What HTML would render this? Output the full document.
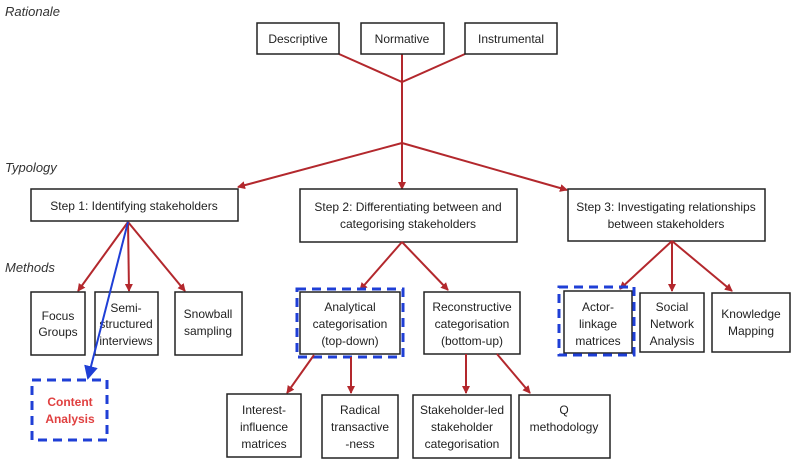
<!DOCTYPE html>
<html><head><meta charset="utf-8"><style>
html,body{margin:0;padding:0;background:#fff;}
svg{display:block;}
text{font-family:"Liberation Sans",Arial,sans-serif;font-size:12px;fill:#222;text-anchor:middle;}
.lab{font-style:italic;text-anchor:start;fill:#333;font-size:13px;}
.b{fill:#fff;stroke:#222;stroke-width:1.5;}
.r{stroke:#b3282d;stroke-width:2;fill:none;}
.d{fill:none;stroke:#1f3fd6;stroke-width:3;stroke-dasharray:9,6;}
</style></head><body>
<svg width="799" height="467" viewBox="0 0 799 467">
<defs>
<marker id="a" markerWidth="8" markerHeight="8" refX="7" refY="4" orient="auto" markerUnits="userSpaceOnUse"><path d="M0,0 L8,4 L0,8 z" fill="#b3282d"/></marker>
<marker id="bl" markerWidth="14" markerHeight="14" refX="12" refY="7" orient="auto" markerUnits="userSpaceOnUse"><path d="M0,0 L14,7 L0,14 z" fill="#1f3fd6"/></marker>
</defs>
<text class="lab" x="5" y="16">Rationale</text>
<text class="lab" x="5" y="172">Typology</text>
<text class="lab" x="5" y="272">Methods</text>

<path class="r" d="M339,54 L402,82 L465,54 M402,54 L402,143"/>
<path class="r" d="M402,143 L238,187" marker-end="url(#a)"/>
<path class="r" d="M402,143 L402,189" marker-end="url(#a)"/>
<path class="r" d="M402,143 L567,190" marker-end="url(#a)"/>

<rect class="b" x="257" y="23" width="82" height="31"/><text x="298" y="43">Descriptive</text>
<rect class="b" x="361" y="23" width="83" height="31"/><text x="402" y="43">Normative</text>
<rect class="b" x="465" y="23" width="92" height="31"/><text x="511" y="43">Instrumental</text>

<rect class="b" x="31" y="189" width="207" height="32"/><text x="134" y="210">Step 1: Identifying stakeholders</text>
<rect class="b" x="300" y="189" width="217" height="53"/><text x="408" y="211">Step 2: Differentiating between and</text><text x="408" y="228">categorising stakeholders</text>
<rect class="b" x="568" y="189" width="197" height="52"/><text x="666" y="211">Step 3: Investigating relationships</text><text x="666" y="228">between stakeholders</text>

<path class="r" d="M128,222 L78,291" marker-end="url(#a)"/>
<path class="r" d="M128,222 L129,291" marker-end="url(#a)"/>
<path class="r" d="M128,222 L185,291" marker-end="url(#a)"/>
<rect class="b" x="31" y="292" width="54" height="63"/><text x="58" y="320">Focus</text><text x="58" y="336">Groups</text>
<rect class="b" x="95" y="292" width="63" height="63"/><text x="126" y="312">Semi-</text><text x="126" y="328">structured</text><text x="126" y="345">interviews</text>
<rect class="b" x="175" y="292" width="67" height="63"/><text x="208" y="318">Snowball</text><text x="208" y="335">sampling</text>
<rect class="d" x="32" y="380" width="75" height="60"/>
<text x="70" y="406" style="fill:#e04040;font-weight:bold;font-size:12px">Content</text><text x="70" y="423" style="fill:#e04040;font-weight:bold;font-size:12px">Analysis</text>
<path d="M128,222 L88,378" stroke="#1f3fd6" stroke-width="2" marker-end="url(#bl)"/>

<path class="r" d="M402,242 L360,290" marker-end="url(#a)"/>
<path class="r" d="M402,242 L448,290" marker-end="url(#a)"/>
<rect class="b" x="300" y="292" width="100" height="62"/><text x="350" y="311">Analytical</text><text x="350" y="328">categorisation</text><text x="350" y="345">(top-down)</text>
<rect class="d" x="297" y="289" width="106" height="68"/>
<rect class="b" x="424" y="292" width="96" height="62"/><text x="472" y="311">Reconstructive</text><text x="472" y="328">categorisation</text><text x="472" y="345">(bottom-up)</text>
<path class="r" d="M314,355 L287,393" marker-end="url(#a)"/>
<path class="r" d="M351,357 L351,393" marker-end="url(#a)"/>
<path class="r" d="M466,354 L466,393" marker-end="url(#a)"/>
<path class="r" d="M497,354 L530,393" marker-end="url(#a)"/>
<rect class="b" x="227" y="394" width="74" height="63"/><text x="264" y="414">Interest-</text><text x="264" y="431">influence</text><text x="264" y="448">matrices</text>
<rect class="b" x="322" y="395" width="76" height="63"/><text x="360" y="414">Radical</text><text x="360" y="431">transactive</text><text x="360" y="448">-ness</text>
<rect class="b" x="413" y="395" width="98" height="63"/><text x="462" y="414">Stakeholder-led</text><text x="462" y="431">stakeholder</text><text x="462" y="448">categorisation</text>
<rect class="b" x="519" y="395" width="91" height="63"/><text x="564" y="414">Q</text><text x="564" y="431">methodology</text>

<path class="r" d="M672,241 L620,289" marker-end="url(#a)"/>
<path class="r" d="M672,241 L672,291" marker-end="url(#a)"/>
<path class="r" d="M672,241 L732,291" marker-end="url(#a)"/>
<rect class="b" x="564" y="291" width="68" height="62"/><text x="598" y="311">Actor-</text><text x="598" y="328">linkage</text><text x="598" y="345">matrices</text>
<rect class="d" x="559" y="287" width="75" height="68"/>
<rect class="b" x="640" y="293" width="64" height="59"/><text x="672" y="311">Social</text><text x="672" y="328">Network</text><text x="672" y="345">Analysis</text>
<rect class="b" x="712" y="293" width="78" height="59"/><text x="751" y="318">Knowledge</text><text x="751" y="335">Mapping</text>
</svg>
</body></html>
